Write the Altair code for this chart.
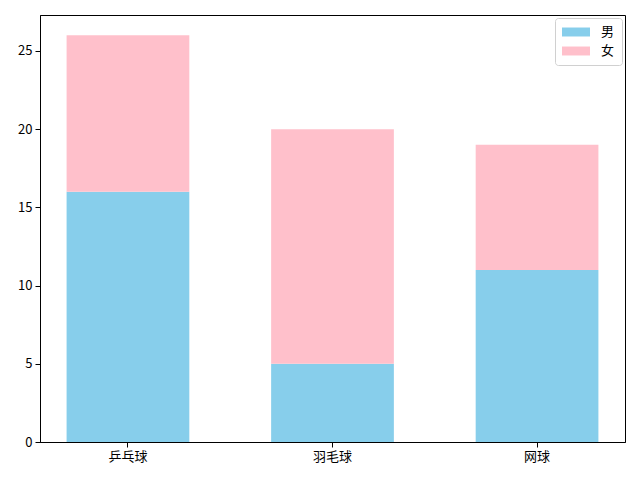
import altair as alt
import pandas as pd

categories = ["乒乓球", "羽毛球", "网球"]
men = [16, 5, 11]
women = [10, 15, 8]
series = ["男", "女"]
colors = ["#87CEEB", "#FFC0CB"]
y_ticks = [0, 5, 10, 15, 20, 25]

rows = []
for i, c in enumerate(categories):
    rows.append({"sport": c, "sex": series[0], "count": men[i], "ord": 0})
    rows.append({"sport": c, "sex": series[1], "count": women[i], "ord": 1})
df = pd.DataFrame(rows)

font = "Noto Sans CJK SC"

chart = alt.Chart(df).mark_bar().encode(
    x=alt.X("sport:N", sort=categories,
            scale=alt.Scale(paddingInner=0.4, paddingOuter=0.13),
            axis=alt.Axis(title=None, labelAngle=0, labelFont=font, labelFontSize=13,
                          labelColor="black", tickColor="black", domainColor="black",
                          tickSize=5, labelPadding=3)),
    y=alt.Y("count:Q", stack="zero",
            scale=alt.Scale(domain=[0, 27.3], nice=False, zero=True),
            axis=alt.Axis(title=None, values=y_ticks, grid=False, labelFont=font,
                          labelFontSize=13, labelColor="black", tickColor="black",
                          domainColor="black", tickSize=5, labelPadding=3)),
    color=alt.Color("sex:N", scale=alt.Scale(domain=series, range=colors),
                    legend=alt.Legend(title=None, orient="top-right", offset=3,
                                      padding=7, strokeColor="#d0d0d0", fillColor="white",
                                      cornerRadius=3,
                                      symbolType="M-1,-0.64L3,-0.64L3,0.64L-1,0.64Z",
                                      symbolSize=196, symbolStrokeWidth=0, symbolOpacity=1,
                                      labelFont=font, labelFontSize=13, labelColor="black",
                                      rowPadding=5, labelOffset=25)),
    order=alt.Order("ord:Q"),
).properties(
    width=585, height=427,
    autosize=alt.AutoSizeParams(type="none"),
    padding={"left": 32, "top": 7, "right": 7, "bottom": 30},
).configure_view(
    stroke="black", strokeWidth=1
).configure_axis(
    domainWidth=1, tickWidth=1
)

chart.save("out.html", embed_options={"renderer": "svg", "actions": False})
